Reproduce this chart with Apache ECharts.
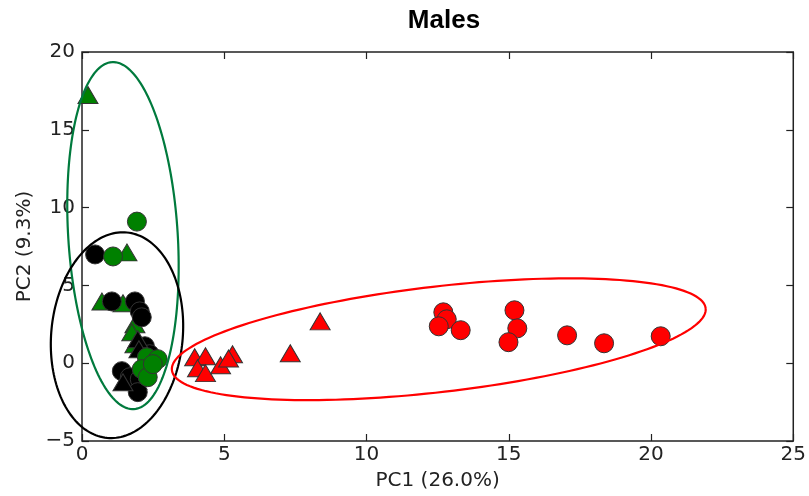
<!DOCTYPE html>
<html>
<head>
<meta charset="utf-8">
<title>Males</title>
<script src="https://cdn.jsdelivr.net/npm/echarts@6/dist/echarts.min.js"></script>
</head>
<body style="margin:0">
<div id="main" style="width:809px;height:496px;"></div>
<script type="text/javascript">
// point data, [PC1, PC2]
var redCircles = [[12.7, 3.27], [12.82, 2.82], [12.54, 2.37], [13.31, 2.12], [15.2, 3.4],
    [15.3, 2.24], [14.99, 1.35], [17.05, 1.79], [18.35, 1.28], [20.34, 1.73]];
var redTriangles = [[3.96, 0.38], [4.34, 0.45], [4.06, -0.32], [4.34, -0.64], [4.87, -0.13],
    [5.29, 0.58], [5.15, 0.3], [7.32, 0.64], [8.37, 2.69]];
var blackCircles = [[0.46, 6.99], [1.05, 3.97], [1.86, 3.97], [2.03, 3.33], [2.1, 2.95],
    [2.21, 1.09], [2.38, 0.58], [1.4, -0.51], [1.68, -0.9], [2.03, -1.03], [1.96, -1.86]];
var blackTriangles = [[1.44, -1.22], [1.96, 1.54], [2.0, 0.9]];
var greenCircles = [[1.93, 9.1], [1.09, 6.86], [2.28, 0.38], [2.66, 0.26], [2.1, -0.38],
    [2.31, -0.9], [2.49, -0.06]];
var greenTriangles = [[0.21, 17.24], [1.58, 7.12], [0.7, 3.97], [1.44, 3.85], [1.86, 2.5],
    [1.75, 1.99], [1.86, 1.22], [1.93, -1.15]];

// ellipses: centre, major half-axis vector, minor half-axis vector (data units)
var ellipseGreen = { c: [1.44, 8.2], a: [-0.385, 11.15], b: [1.92, 0.22] };
var ellipseBlack = { c: [1.23, 1.8], a: [0.35, 6.6], b: [2.3, -0.41] };
var ellipseRed = { c: [12.54, 1.54], a: [9.38, 1.99], b: [0.213, -3.37] };

var xTicks = [0, 25, 5];
var yTicks = [-5, 20, 5];

var myChart = echarts.init(document.getElementById('main'));

function ellipseSeries(e, color) {
    return {
        type: 'custom',
        data: [[e.c[0], e.c[1]]],
        z: 5,
        silent: true,
        renderItem: function (params, api) {
            var pts = [];
            for (var i = 0; i <= 180; i++) {
                var t = i / 180 * Math.PI * 2;
                var x = e.c[0] + e.a[0] * Math.cos(t) + e.b[0] * Math.sin(t);
                var y = e.c[1] + e.a[1] * Math.cos(t) + e.b[1] * Math.sin(t);
                pts.push(api.coord([x, y]));
            }
            return {
                type: 'polyline',
                shape: { points: pts },
                style: { stroke: color, lineWidth: 2.2, fill: null }
            };
        }
    };
}

function pts(data, color, symbol) {
    return {
        type: 'scatter',
        data: data,
        symbol: symbol,
        symbolSize: symbol === 'triangle' ? [20, 17] : 19,
        itemStyle: { color: color, borderColor: '#333', borderWidth: 1, opacity: 1 },
        z: 3
    };
}

var minus = function (v) { return String(v).replace('-', '\u2212'); };
var tickFont = { fontFamily: 'DejaVu Sans', fontSize: 20, color: '#222' };
var tickStyle = { inside: true, length: 7, lineStyle: { color: '#222', width: 1.2 } };

option = {
    animation: false,
    backgroundColor: '#fff',
    title: {
        text: 'Males',
        left: 439,
        textAlign: 'center',
        top: 3,
        textStyle: { fontFamily: 'Liberation Sans', fontWeight: 'bold', fontSize: 26, color: '#000' }
    },
    grid: { left: 82, right: 13, top: 52, bottom: 54, show: true, borderColor: '#222', borderWidth: 1.5 },
    xAxis: [{
        type: 'value', min: xTicks[0], max: xTicks[1], interval: xTicks[2],
        name: 'PC1 (26.0%)', nameLocation: 'middle', nameGap: 30,
        nameTextStyle: { fontFamily: 'DejaVu Sans', fontSize: 20, color: '#222' },
        axisLine: { show: false, onZero: false },
        axisTick: tickStyle,
        axisLabel: Object.assign({ margin: 4, formatter: minus }, tickFont),
        splitLine: { show: false }
    }, {
        type: 'value', position: 'top', min: xTicks[0], max: xTicks[1], interval: xTicks[2],
        axisLine: { show: false, onZero: false },
        axisTick: tickStyle,
        axisLabel: { show: false },
        splitLine: { show: false }
    }],
    yAxis: [{
        type: 'value', min: yTicks[0], max: yTicks[1], interval: yTicks[2],
        name: 'PC2 (9.3%)', nameLocation: 'middle', nameGap: 44,
        nameTextStyle: { fontFamily: 'DejaVu Sans', fontSize: 20, color: '#222' },
        axisLine: { show: false, onZero: false },
        axisTick: tickStyle,
        axisLabel: Object.assign({ margin: 7, formatter: minus }, tickFont),
        splitLine: { show: false }
    }, {
        type: 'value', position: 'right', min: yTicks[0], max: yTicks[1], interval: yTicks[2],
        axisLine: { show: false, onZero: false },
        axisTick: tickStyle,
        axisLabel: { show: false },
        splitLine: { show: false }
    }],
    series: [
        pts(redTriangles, '#ff0000', 'triangle'),
        pts(redCircles, '#ff0000', 'circle'),
        pts(greenTriangles, '#008000', 'triangle'),
        pts(blackCircles, '#000000', 'circle'),
        pts(blackTriangles, '#000000', 'triangle'),
        pts(greenCircles, '#008000', 'circle'),
        ellipseSeries(ellipseGreen, '#007a3d'),
        ellipseSeries(ellipseBlack, '#000000'),
        ellipseSeries(ellipseRed, '#ff0000')
    ]
};

myChart.setOption(option);
</script>
</body>
</html>
